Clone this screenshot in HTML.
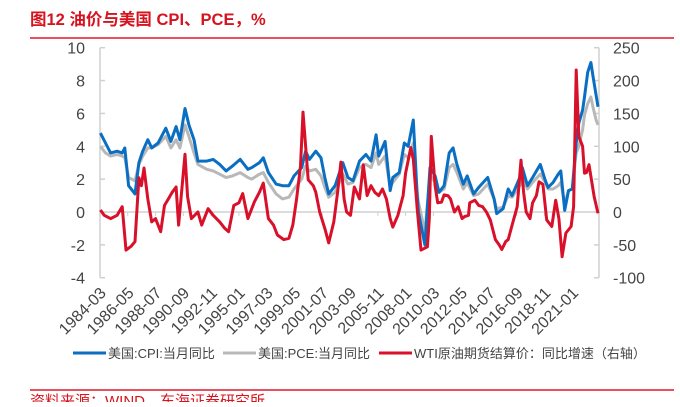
<!DOCTYPE html>
<html><head><meta charset="utf-8">
<style>
html,body{margin:0;padding:0;background:#fff;}
body{width:680px;height:402px;overflow:hidden;position:relative;font-family:"Liberation Sans","Noto Sans CJK SC",sans-serif;}
</style></head>
<body>
<svg id="chart" width="680" height="402" viewBox="0 0 680 402" xmlns="http://www.w3.org/2000/svg" font-family="Liberation Sans, Noto Sans CJK SC, sans-serif">
  <text x="30" y="25" font-size="16.5" font-weight="bold" fill="#d6141f">图12  油价与美国 CPI、PCE，%</text>
  <line x1="30" y1="38" x2="674" y2="38" stroke="#e0192a" stroke-width="1.5"/>
  <g id="axes"></g>
  <g id="series"></g>
  <g id="legend">
    <line x1="73" y1="353" x2="106" y2="353" stroke="#0a6fc2" stroke-width="3"/>
    <text x="108" y="358" font-size="13" fill="#444">美国:CPI:当月同比</text>
    <line x1="223" y1="353" x2="256" y2="353" stroke="#b8b8b8" stroke-width="3"/>
    <text x="258" y="358" font-size="13" fill="#444">美国:PCE:当月同比</text>
    <line x1="379" y1="353" x2="412" y2="353" stroke="#d9102a" stroke-width="3"/>
    <text x="414" y="358" font-size="13" fill="#444">WTI原油期货结算价：同比增速（右轴）</text>
  </g>
  <line x1="30" y1="390" x2="674" y2="390" stroke="#e0192a" stroke-width="1.5"/>
  <text x="30" y="406" font-size="15" fill="#d6141f">资料来源：WIND，东海证券研究所</text>
</svg>
<script>
const xLabels = ["1984-03","1986-05","1988-07","1990-09","1992-11","1995-01","1997-03","1999-05","2001-07","2003-09","2005-11","2008-01","2010-03","2012-05","2014-07","2016-09","2018-11","2021-01"];
const leftTicks = [10,8,6,4,2,0,-2,-4];
const rightTicks = [250,200,150,100,50,0,-50,-100];
const cpiDates = [1984.2,1984.6,1985.0,1985.5,1985.9,1986.1,1986.4,1986.9,1987.2,1987.5,1987.9,1988.2,1988.7,1989.3,1989.7,1990.1,1990.4,1990.8,1991.1,1991.5,1991.8,1992.5,1993.0,1993.5,1994.0,1994.5,1995.1,1995.7,1996.0,1996.6,1996.9,1997.3,1997.9,1998.4,1998.9,1999.3,1999.9,2000.2,2000.5,2001.0,2001.4,2001.7,2002.0,2002.5,2003.1,2003.5,2003.9,2004.4,2004.9,2005.3,2005.7,2005.9,2006.4,2006.8,2007.0,2007.5,2007.9,2008.2,2008.6,2008.9,2009.0,2009.5,2009.9,2010.3,2010.6,2011.0,2011.4,2011.7,2012.0,2012.5,2012.8,2013.3,2013.7,2014.4,2014.9,2015.1,2015.6,2016.0,2016.3,2016.9,2017.1,2017.5,2017.9,2018.5,2018.9,2019.1,2019.5,2019.9,2020.1,2020.4,2020.7,2021.0,2021.3,2021.5,2021.8,2021.95,2022.2,2022.45,2022.6,2022.85,2023.0];
const cpiValues = [4.8,4.2,3.6,3.7,3.6,3.9,1.6,1.1,3.0,3.7,4.4,3.9,4.2,5.1,4.3,5.2,4.4,6.3,5.3,4.4,3.1,3.1,3.2,2.9,2.5,2.8,3.2,2.6,2.7,3.0,3.3,2.4,1.7,1.6,1.6,2.2,2.7,3.7,3.2,3.7,3.3,2.1,1.1,1.6,3.0,2.1,1.9,3.1,3.5,3.1,4.7,3.4,4.3,1.3,2.1,2.4,4.2,4.0,5.6,1.0,0.0,-2.0,2.7,2.2,1.2,1.6,3.6,3.9,2.9,1.7,2.2,1.1,1.5,2.1,0.8,-0.1,0.2,1.4,1.0,2.1,2.7,1.6,2.1,2.9,1.9,1.5,1.8,2.3,2.5,0.1,1.3,1.4,4.2,5.4,6.2,7.0,8.5,9.1,8.3,7.1,6.4];
const pceValues = [4.0,3.6,3.4,3.5,3.4,3.3,2.1,1.9,2.9,3.4,3.9,3.9,4.1,4.6,3.9,4.4,3.9,5.3,4.6,3.6,2.9,2.6,2.5,2.3,2.1,2.2,2.4,2.1,2.0,2.3,2.4,1.8,1.1,0.8,0.9,1.4,2.0,2.8,2.5,2.6,2.2,1.5,0.9,1.2,2.3,1.7,1.8,2.7,2.9,2.7,3.6,2.9,3.4,1.5,1.8,2.3,3.5,3.3,4.2,1.2,0.6,-1.2,2.3,1.8,1.2,1.4,2.7,2.9,2.4,1.4,1.8,1.0,1.1,1.7,0.8,0.2,0.3,1.0,0.9,1.6,2.0,1.4,1.8,2.3,1.8,1.4,1.4,1.6,1.8,0.5,1.3,1.4,3.6,4.0,5.0,5.9,6.6,7.0,6.4,5.6,5.3];
const wtiDates = [1984.2,1984.5,1985.0,1985.5,1985.9,1986.2,1986.6,1986.9,1987.2,1987.4,1987.6,1987.9,1988.2,1988.5,1988.9,1989.2,1989.5,1989.8,1990.1,1990.3,1990.8,1991.0,1991.3,1991.8,1992.1,1992.6,1993.0,1993.5,1993.9,1994.2,1994.6,1995.0,1995.3,1995.7,1996.2,1996.6,1996.9,1997.3,1997.7,1998.0,1998.5,1998.9,1999.2,1999.5,1999.8,2000.0,2000.4,2000.8,2001.0,2001.3,2001.7,2002.0,2002.4,2002.7,2002.95,2003.2,2003.4,2003.7,2004.0,2004.4,2004.7,2005.0,2005.3,2005.6,2005.9,2006.2,2006.5,2006.8,2007.0,2007.4,2007.8,2008.0,2008.4,2008.6,2008.9,2009.2,2009.5,2009.7,2009.85,2010.0,2010.3,2010.5,2010.8,2011.0,2011.3,2011.5,2011.8,2012.1,2012.4,2012.6,2012.9,2013.0,2013.4,2013.7,2014.0,2014.3,2014.6,2015.0,2015.3,2015.5,2015.8,2016.0,2016.3,2016.7,2017.0,2017.2,2017.4,2017.7,2017.9,2018.2,2018.4,2018.7,2019.0,2019.4,2019.7,2019.95,2020.2,2020.5,2020.9,2021.1,2021.3,2021.5,2021.8,2021.95,2022.1,2022.3,2022.7,2023.0];
const wtiValues = [3,-5,-10,-5,8,-58,-52,-45,52,40,67,20,-15,-10,-30,10,20,30,38,-20,88,23,-10,0,-20,5,-5,-15,-25,-30,10,14,28,-10,15,30,44,-10,-20,-35,-42,-40,-20,20,70,152,49,40,30,0,-25,-47,-15,30,76,20,0,-5,38,20,72,25,40,30,25,35,20,-10,-23,-5,25,59,98,80,5,-58,-55,-53,-10,115,40,14,15,26,25,20,0,8,-10,-7,-5,14,18,10,8,0,-12,-42,-50,-57,-45,-42,-20,8,79,30,0,-10,14,25,46,42,-12,-22,18,-10,-68,-32,-22,8,216,115,100,59,60,72,23,-2];

const X0=100, X1=598, T0=1984.17, T1=2023.0;
const yL = v => 212 - v*16.43;
const yR = v => 212 - v*0.6572;
const xT = t => X0 + (t - T0)/(T1 - T0)*(X1 - X0);
const NS="http://www.w3.org/2000/svg";
function mk(tag, attrs, parent){const e=document.createElementNS(NS,tag);for(const k in attrs)e.setAttribute(k,attrs[k]);parent.appendChild(e);return e;}
const axes=document.getElementById('axes');
const series=document.getElementById('series');

let e=mk('line',{x1:X0,y1:yL(10),x2:X0,y2:yL(-4),stroke:'#d0d0d0','stroke-width':1.5},axes);


e=mk('line',{x1:599,y1:yR(250),x2:599,y2:yR(-100),stroke:'#d0d0d0','stroke-width':1.5},axes);


e=mk('line',{x1:X0,y1:yL(0),x2:599,y2:yL(0),stroke:'#d0d0d0','stroke-width':1.5},axes);



leftTicks.forEach(v=>{
  let t=mk('line',{x1:X0,y1:yL(v),x2:X0+5,y2:yL(v),stroke:'#d0d0d0','stroke-width':1.5},axes);
  
  
  let l=mk('text',{x:85,y:yL(v)+6,'text-anchor':'end','font-size':16,fill:'#444'},axes);
  l.textContent=v;
  
  
});
rightTicks.forEach(v=>{
  let t=mk('line',{x1:594,y1:yR(v),x2:599,y2:yR(v),stroke:'#d0d0d0','stroke-width':1.5},axes);
  
  
  let l=mk('text',{x:613,y:yR(v)+6,'font-size':16,fill:'#444'},axes);
  l.textContent=v;
  
  
});
xLabels.forEach(s=>{
  const [yy,mm]=s.split('-').map(Number);
  const x=xT(yy+(mm-1)/12);
  let t=mk('line',{x1:x,y1:212,x2:x,y2:216,stroke:'#d0d0d0','stroke-width':1},axes);
  
  
  let l=mk('text',{x:0,y:0,'text-anchor':'end','font-size':16,fill:'#444',transform:`translate(${x+7},${294}) rotate(-45)`},axes);
  l.textContent=s;
  
  
});
function path(dates, vals, yf){return dates.map((d,i)=>(i?'L':'M')+xT(d).toFixed(1)+' '+yf(vals[i]).toFixed(1)).join(' ');}
let p=mk('path',{d:path(cpiDates,pceValues,yL),fill:'none',stroke:'#b8b8b8','stroke-width':3,'stroke-linejoin':'round'},series);


p=mk('path',{d:path(cpiDates,cpiValues,yL),fill:'none',stroke:'#0a6fc2','stroke-width':3,'stroke-linejoin':'round'},series);


p=mk('path',{d:path(wtiDates,wtiValues,yR),fill:'none',stroke:'#d9102a','stroke-width':3,'stroke-linejoin':'round'},series);


</script>
</body></html>
